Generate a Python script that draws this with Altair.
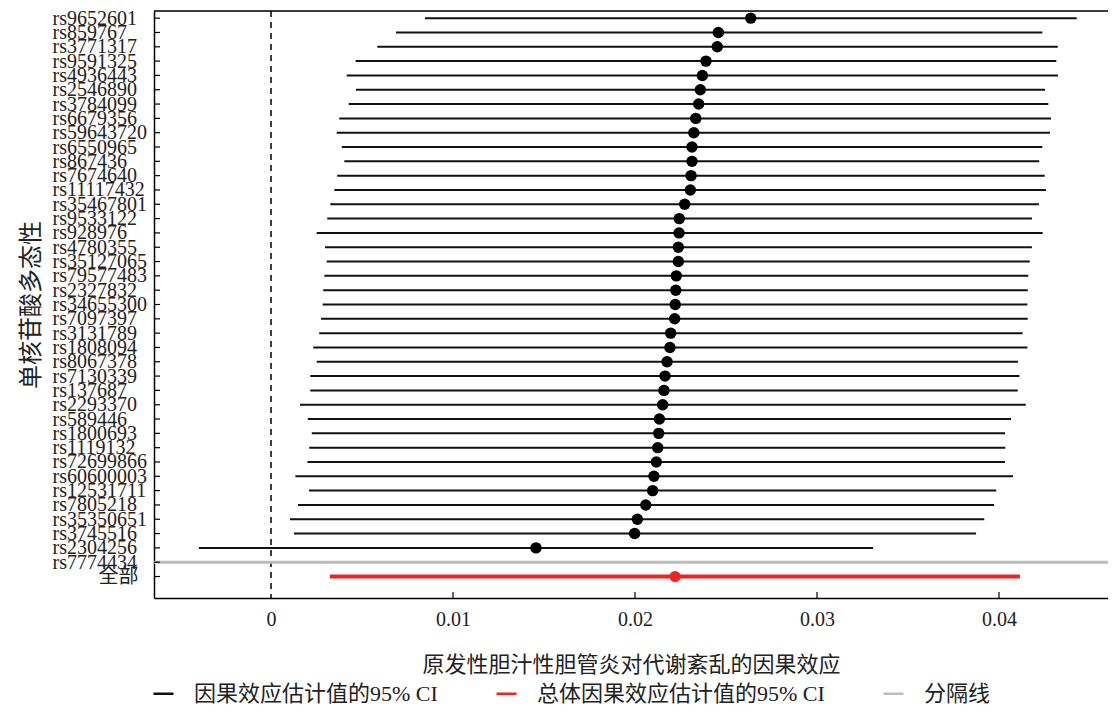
import altair as alt
import pandas as pd

snps = ["rs9652601", "rs859767", "rs3771317", "rs9591325", "rs4936443", "rs2546890",
        "rs3784099", "rs6679356", "rs59643720", "rs6550965", "rs867436", "rs7674640",
        "rs11117432", "rs35467801", "rs9533122", "rs928976", "rs4780355", "rs35127065",
        "rs79577483", "rs2327832", "rs34655300", "rs7097397", "rs3131789", "rs1808094",
        "rs8067378", "rs7130339", "rs137687", "rs2293370", "rs589446", "rs1800693",
        "rs1119132", "rs72699866", "rs60600003", "rs12531711", "rs7805218", "rs35350651",
        "rs3745516", "rs2304256"]
lower = [0.00846, 0.00687, 0.00584, 0.00465, 0.00416, 0.00467, 0.00427, 0.00375,
         0.00361, 0.00389, 0.00403, 0.00364, 0.00348, 0.00326, 0.00309, 0.00251,
         0.00297, 0.00306, 0.00293, 0.00287, 0.00284, 0.00275, 0.00265, 0.00232,
         0.00251, 0.00216, 0.00216, 0.00159, 0.00202, 0.00224, 0.00210, 0.00200,
         0.00134, 0.00209, 0.00148, 0.00104, 0.00126, -0.00396]
estimate = [0.02636, 0.02458, 0.02452, 0.02390, 0.02370, 0.02359, 0.02350, 0.02334,
            0.02323, 0.02313, 0.02313, 0.02308, 0.02304, 0.02273, 0.02243, 0.02242,
            0.02238, 0.02238, 0.02227, 0.02224, 0.02221, 0.02218, 0.02196, 0.02192,
            0.02176, 0.02165, 0.02159, 0.02152, 0.02134, 0.02130, 0.02125, 0.02117,
            0.02104, 0.02097, 0.02059, 0.02013, 0.01998, 0.01456]
upper = [0.04427, 0.04238, 0.04323, 0.04315, 0.04324, 0.04253, 0.04271, 0.04286,
         0.04280, 0.04238, 0.04221, 0.04251, 0.04258, 0.04220, 0.04181, 0.04240,
         0.04181, 0.04169, 0.04161, 0.04158, 0.04156, 0.04158, 0.04130, 0.04156,
         0.04104, 0.04112, 0.04103, 0.04147, 0.04066, 0.04033, 0.04035, 0.04033,
         0.04077, 0.03985, 0.03973, 0.03919, 0.03874, 0.03308]

sep_label = "rs7774434"
all_label = "全部"
all_lower = [0.00324]
all_estimate = [0.02220]
all_upper = [0.04115]

x_ticks = [0, 0.01, 0.02, 0.03, 0.04]
x_domain = [-0.006429, 0.045989]
legend_labels = ["因果效应估计值的95% CI", "总体因果效应估计值的95% CI", "分隔线"]
legend_colors = ["#111111", "#ee2424", "#bcbcbc"]

order = snps + [sep_label, all_label]

W, H = 954, 587
SERIF = "Liberation Serif, Noto Sans CJK SC"
CJK = "Noto Sans CJK SC"

snp_df = pd.DataFrame({"snp": snps, "lo": lower, "est": estimate, "hi": upper,
                       "kind": legend_labels[0]})
all_df = pd.DataFrame({"snp": [all_label], "lo": all_lower, "est": all_estimate,
                       "hi": all_upper, "kind": legend_labels[1]})
sep_df = pd.DataFrame({"snp": [sep_label], "kind": [legend_labels[2]]})
zero_df = pd.DataFrame({"x": [x_ticks[0]]})
xt_df = pd.DataFrame({"x": x_ticks[1:]})
yt_df = pd.DataFrame({"snp": order})

y_axis = alt.Axis(
    title="单核苷酸多态性", ticks=False, grid=False,
    domainColor="black", domainWidth=1.5,
    labelFont=SERIF, labelFontSize=20, labelColor="#222222",
    labelAlign={"condition": {"test": "datum.value === '全部'", "value": "right"}, "value": "left"},
    labelPadding={"condition": {"test": "datum.value === '全部'", "value": 16}, "value": 102},
    labelBaseline="middle", labelLimit=300,
    titleFont=CJK, titleFontSize=24, titleFontWeight="normal", titleColor="#222222",
    titlePadding=9,
)
y_scale = alt.Scale(domain=order, type="point", padding=1.125, align=0.25)


def Y():
    return alt.Y("snp:N", sort=order, scale=y_scale, axis=y_axis)


x_axis = alt.Axis(
    title="原发性胆汁性胆管炎对代谢紊乱的因果效应", values=x_ticks, format=".2~f",
    ticks=False, grid=False, domainColor="black", domainWidth=1.5,
    labelFont=SERIF, labelFontSize=20, labelColor="#222222", labelPadding=11,
    titleFont=CJK, titleFontSize=22, titleFontWeight="normal", titleColor="#222222",
    titlePadding=25,
)
x_scale = alt.Scale(domain=x_domain, nice=False, zero=False)


def X(field):
    return alt.X(field, type="quantitative", scale=x_scale, axis=x_axis)


color = alt.Color(
    "kind:N",
    scale=alt.Scale(domain=legend_labels, range=legend_colors),
    legend=alt.Legend(
        title=None, orient="none", legendX=-2, legendY=671, direction="horizontal",
        symbolType="stroke", symbolStrokeWidth=2.5, symbolSize=400,
        labelFont=SERIF, labelFontSize=22, labelColor="#222222", labelOffset=19,
        columnPadding=53, labelLimit=600, padding=0,
    ),
)

zero_line = alt.Chart(zero_df).mark_rule(color="black", strokeWidth=1.5, strokeDash=[6, 5]).encode(
    x=X("x")
)
sep_line = alt.Chart(sep_df).mark_rule(strokeWidth=3).encode(
    y=Y(), x=alt.value(0), x2=alt.value(W), color=color
)
snp_ci = alt.Chart(snp_df).mark_rule(strokeWidth=2).encode(
    y=Y(), x=X("lo"), x2="hi:Q", color=color
)
all_ci = alt.Chart(all_df).mark_rule(strokeWidth=4).encode(
    y=Y(), x=X("lo"), x2="hi:Q", color=color
)
snp_pts = alt.Chart(snp_df).mark_circle(size=130, opacity=1, color="black").encode(
    y=Y(), x=X("est")
)
all_pts = alt.Chart(all_df).mark_circle(size=125, opacity=1, color=legend_colors[1]).encode(
    y=Y(), x=X("est")
)
top_frame = alt.Chart(zero_df).mark_rule(color="black", strokeWidth=1.5).encode(
    y=alt.value(0), x=alt.value(0), x2=alt.value(W)
)
x_inticks = alt.Chart(xt_df).mark_rule(color="black", strokeWidth=1.2).encode(
    x=X("x"), y=alt.value(H), y2=alt.value(H - 6)
)
y_inticks = alt.Chart(yt_df).mark_rule(color="black", strokeWidth=1.2).encode(
    y=Y(), x=alt.value(0), x2=alt.value(6)
)

chart = alt.layer(
    zero_line, sep_line, snp_ci, all_ci, snp_pts, all_pts, top_frame, x_inticks, y_inticks
).properties(
    width=W, height=H,
    autosize=alt.AutoSizeParams(type="none"),
    padding={"left": 146, "top": 3, "right": 0, "bottom": 109},
).configure_view(stroke=None).configure(background="white")

chart.save("out.html", embed_options={"renderer": "svg", "actions": False})
